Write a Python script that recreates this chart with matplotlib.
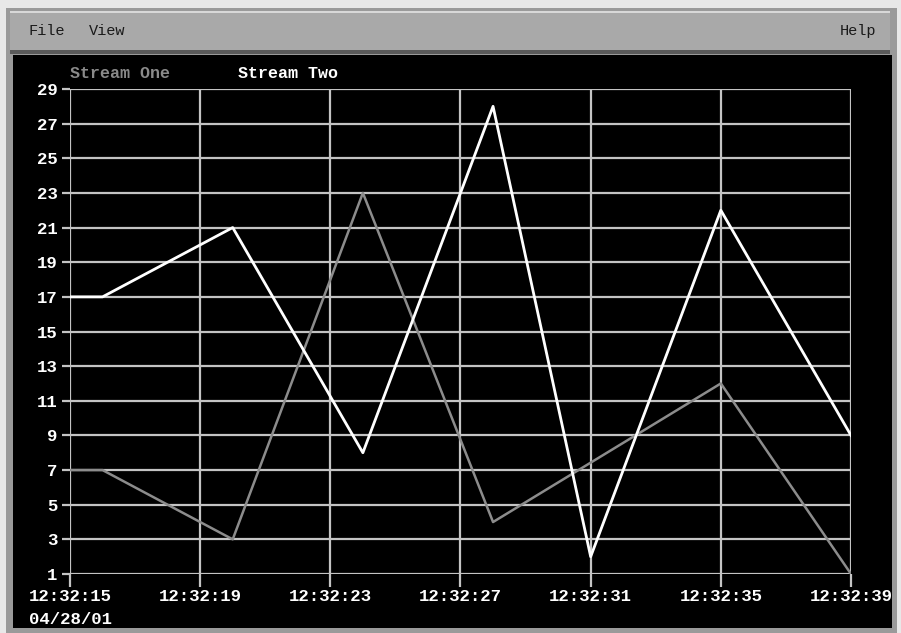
import matplotlib.pyplot as plt
from matplotlib.patches import Rectangle

# seconds after 12:32:00
stream_one_t = [15, 16, 20, 24, 28, 35, 39]
stream_one_v = [7, 7, 3, 23, 4, 12, 1]
stream_two_t = [15, 16, 20, 24, 28, 31, 35, 39]
stream_two_v = [17, 17, 21, 8, 28, 2, 22, 9]

x_ticks = [15, 19, 23, 27, 31, 35, 39]
x_labels = ['12:32:15', '12:32:19', '12:32:23', '12:32:27', '12:32:31', '12:32:35', '12:32:39']
y_ticks = list(range(1, 30, 2))
date_label = '04/28/01'

W, H = 901, 633
fig = plt.figure(figsize=(W / 100, H / 100), dpi=100)
fig.patch.set_facecolor('#e8e8e8')


def px_rect(x0, y0, x1, y1, color, **kw):
    r = Rectangle((x0 / W, 1 - y1 / H), (x1 - x0) / W, (y1 - y0) / H,
                  transform=fig.transFigure, facecolor=color, edgecolor='none', **kw)
    fig.add_artist(r)


# window frame
px_rect(6, 8, 897, 633, '#9a9a9a', zorder=0)
px_rect(10, 11, 890, 50, '#a9a9a9', zorder=0)
px_rect(10, 11, 890, 13, '#d8d8d8', zorder=0)
px_rect(10, 50, 890, 54, '#5a5a5a', zorder=0)
px_rect(13, 55, 892, 628, 'black', zorder=0)

mono = 'Liberation Mono'
fig.text(29 / W, 1 - 31 / H, 'File', family=mono, fontsize=11, color='#1a1a1a', va='center')
fig.text(89 / W, 1 - 31 / H, 'View', family=mono, fontsize=11, color='#1a1a1a', va='center')
fig.text(876 / W, 1 - 31 / H, 'Help', family=mono, fontsize=11, color='#1a1a1a', va='center', ha='right')

fig.text(70 / W, 1 - 73 / H, 'Stream One', family=mono, fontsize=12, color='#8a8a8a',
         fontweight='bold', va='center')
fig.text(238 / W, 1 - 73 / H, 'Stream Two', family=mono, fontsize=12, color='white',
         fontweight='bold', va='center')

ax = fig.add_axes([70 / W, 1 - 574 / H, (851 - 70) / W, (574 - 89) / H])
ax.set_facecolor('black')
ax.patch.set_alpha(0)

ax.plot(stream_one_t, stream_one_v, color='#8c8c8c', lw=1.8, zorder=3)
ax.plot(stream_two_t, stream_two_v, color='white', lw=2, zorder=4)

ax.set_xlim(15, 39)
ax.set_ylim(1, 29)
ax.set_xticks(x_ticks)
ax.set_xticklabels(x_labels)
ax.set_yticks(y_ticks)
ax.grid(True, color='#c4c4c4', lw=1.6, zorder=1)
ax.set_axisbelow(True)
for s in ax.spines.values():
    s.set_visible(False)
ax.tick_params(axis='x', length=9, width=1.6, color='#c4c4c4', pad=2)
ax.tick_params(axis='y', length=6, width=1.6, color='#c4c4c4', pad=3)
for lab in ax.get_xticklabels() + ax.get_yticklabels():
    lab.set_family(mono)
    lab.set_fontweight('bold')
    lab.set_fontsize(12.5)
    lab.set_color('white')

fig.text(70 / W, 1 - 620 / H, date_label, family=mono, fontsize=12.5, color='white',
         fontweight='bold', va='center', ha='center')

fig.savefig('out.png', dpi=100, facecolor=fig.get_facecolor())
